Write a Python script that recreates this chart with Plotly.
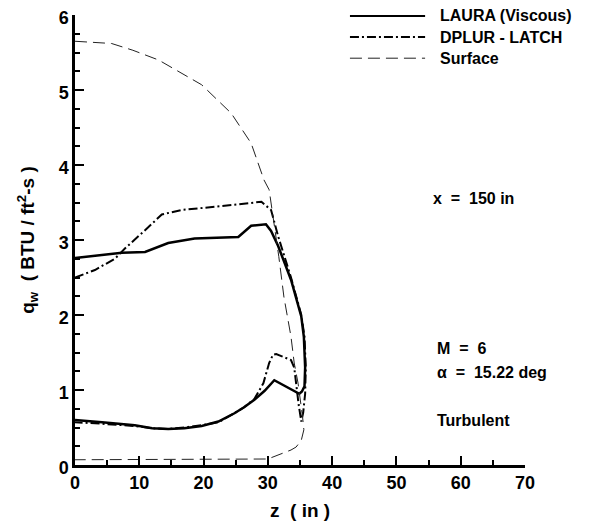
import plotly.graph_objects as go

# ---- data ----
z_laura = [0, 3, 7.3, 10.9, 14.5, 18.6, 21.7, 25.4, 27.4, 29.7, 30.5, 31.6, 33.6, 35.2, 35.6,
           35.8, 35.7, 35.3, 34.9, 33.6, 31.0, 29.5, 27.9, 26.3, 24.8, 22.3, 19.7, 17.0, 14.5, 12.0,
           9.3, 4.2, 0]
q_laura = [2.76, 2.79, 2.83, 2.84, 2.96, 3.02, 3.03, 3.04, 3.19, 3.21, 3.12, 2.92, 2.47, 1.98, 1.71,
           1.30, 1.05, 0.98, 0.95, 1.01, 1.13, 0.99, 0.87, 0.77, 0.69, 0.58, 0.52, 0.49, 0.48, 0.49,
           0.53, 0.57, 0.60]

z_dplur = [0, 3.1, 6.2, 7.8, 10.9, 13.5, 16.6, 20.7, 24.8, 29.0, 30.5, 31.6, 33.6, 35.2, 35.7,
           35.9, 35.8, 35.5, 35.2, 34.8, 34.4, 34.1, 33.6, 32.5, 31.3, 30.8, 30.2, 29.3, 27.9,
           26.3, 24.8, 22.3, 19.7, 17.0, 14.5, 12.0, 9.3, 4.2, 0]
q_dplur = [2.50, 2.60, 2.75, 2.89, 3.13, 3.34, 3.40, 3.44, 3.47, 3.51, 3.40, 3.05, 2.50, 2.00, 1.71,
           1.30, 0.95, 0.70, 0.58, 0.80, 1.10, 1.30, 1.40, 1.44, 1.48, 1.47, 1.36, 1.09, 0.88,
           0.77, 0.69, 0.57, 0.53, 0.50, 0.48, 0.49, 0.52, 0.55, 0.57]

z_surf = [0, 5.7, 9.0, 13.0, 19.7, 24.3, 27.4, 29.4, 30.2, 30.8, 31.7, 32.5, 33.6, 34.1, 34.7,
          35.4, 35.6, 35.2, 34.4, 33.6, 31.3, 30.0, 0]
q_surf = [5.65, 5.62, 5.53, 5.40, 5.07, 4.69, 4.29, 3.80, 3.67, 3.33, 2.78, 2.24, 1.71, 1.36, 1.09,
          0.64, 0.47, 0.33, 0.24, 0.20, 0.12, 0.08, 0.07]

series_names = ["LAURA (Viscous)", "DPLUR - LATCH", "Surface"]
x_ticks = [0, 10, 20, 30, 40, 50, 60, 70]
y_ticks = [0, 1, 2, 3, 4, 5, 6]

FONT = "Liberation Sans, Arial, Helvetica, sans-serif"

styles = [
    dict(color="black", width=2.5, dash="solid"),
    dict(color="black", width=2, dash="9px,3px,2px,3px"),
    dict(color="#222222", width=1, dash="12px,6px"),
]

fig = go.Figure()
for zz, qq, name, st in zip([z_laura, z_dplur, z_surf], [q_laura, q_dplur, q_surf], series_names, styles):
    fig.add_trace(go.Scatter(x=zz, y=qq, mode="lines", name=name, line=st, showlegend=False))

# manual legend (paper coordinates)
leg_rows = [0.998, 0.951, 0.904]
shapes = []
annotations = []
for name, st, yy in zip(series_names, styles, leg_rows):
    shapes.append(dict(type="line", xref="paper", yref="paper", x0=0.611, x1=0.778, y0=yy, y1=yy,
                       line=dict(color=st["color"], width=st["width"] if st["width"] < 2.5 else 2,
                                 dash=st["dash"])))
    annotations.append(dict(xref="paper", yref="paper", x=0.807, y=yy, text=name, showarrow=False,
                            xanchor="left", yanchor="middle",
                            font=dict(family=FONT, size=16, color="black", weight="bold")))

notes = [("x  =  150 in", 55.3, 3.56), ("M  =  6", 56.0, 1.56),
         ("α  =  15.22 deg", 56.0, 1.23), ("Turbulent", 56.0, 0.60)]
for txt, xx, yy in notes:
    annotations.append(dict(x=xx, y=yy, xref="x", yref="y", text=txt, showarrow=False,
                            xanchor="left", yanchor="middle",
                            font=dict(family=FONT, size=16, color="black", weight="bold")))

annotations.append(dict(xref="paper", yref="paper", x=0.5, y=-0.102, text="z  ( in )", showarrow=False,
                        xanchor="center", yanchor="middle",
                        font=dict(family=FONT, size=19, color="black", weight="bold")))
annotations.append(dict(xref="paper", yref="paper", x=-0.107, y=0.5, textangle=-90,
                        text="q<sub>w</sub>  ( BTU / ft<sup>2</sup>-s )", showarrow=False,
                        xanchor="center", yanchor="middle",
                        font=dict(family=FONT, size=19, color="black", weight="bold")))

fig.update_layout(
    width=574, height=513,
    margin=dict(l=67, r=57, t=7, b=56),
    plot_bgcolor="white", paper_bgcolor="white",
    shapes=shapes, annotations=annotations,
    xaxis=dict(range=[0, 70], tickvals=x_ticks, ticks="inside", ticklen=9, tickwidth=2, tickcolor="black",
               showline=True, linewidth=2.5, linecolor="black", showgrid=False, zeroline=False,
               ticklabeloverflow="allow", automargin=False,
               tickfont=dict(family=FONT, size=18, color="black", weight="bold"),
               minor=dict(dtick=5, ticks="inside", ticklen=5, tickwidth=1.5, tickcolor="black")),
    yaxis=dict(range=[0, 6], tickvals=y_ticks, ticks="inside", ticklen=9, tickwidth=2, tickcolor="black",
               showline=True, linewidth=2.5, linecolor="black", showgrid=False, zeroline=False,
               ticklabeloverflow="allow", automargin=False, ticklabelshift=3,
               tickfont=dict(family=FONT, size=18, color="black", weight="bold"),
               minor=dict(dtick=0.25, ticks="inside", ticklen=5, tickwidth=1.5, tickcolor="black")),
)

fig.write_html("out.html")
